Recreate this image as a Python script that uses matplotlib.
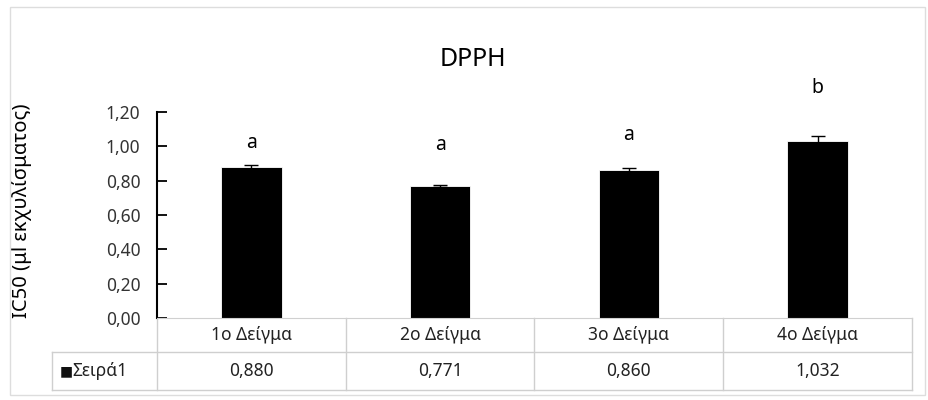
import matplotlib.pyplot as plt
import matplotlib.transforms as mtransforms
import numpy as np

plt.rcParams['font.family'] = ['Noto Sans', 'DejaVu Sans']

categories = ['1ο Δείγμα', '2ο Δείγμα', '3ο Δείγμα', '4ο Δείγμα']
values = [0.880, 0.771, 0.860, 1.032]
errors = [0.010, 0.005, 0.012, 0.030]
letters = ['a', 'a', 'a', 'b']
series_name = 'Σειρά1'
yticks = [0.0, 0.2, 0.4, 0.6, 0.8, 1.0, 1.2]


def comma(v, nd):
    return f'{v:.{nd}f}'.replace('.', ',')


fig = plt.figure(figsize=(9.29, 4.00), dpi=100)
ax = fig.add_axes([157 / 929, 1 - 318 / 400, 755 / 929, 206 / 400])

x = np.arange(len(categories))
ax.bar(x, values, width=0.32, color='black', edgecolor='white', linewidth=0.6, zorder=2)
ax.errorbar(x, values, yerr=errors, fmt='none', ecolor='black', elinewidth=1.0,
            capsize=5, capthick=1.0, zorder=3)

# significance letters (vertical centre of each letter, in y units)
letter_y = [1.02, 1.01, 1.066, 1.34]
for xi, ly, l in zip(x, letter_y, letters):
    ax.text(xi, ly, l, ha='center', va='center', fontsize=14, clip_on=False)

ax.set_xlim(-0.5, len(categories) - 0.5)
ax.set_ylim(0, 1.2)
ax.set_yticks(yticks)
ax.set_yticklabels([comma(t, 2) for t in yticks], fontsize=12.5, color='#333333')
ax.tick_params(axis='y', direction='in', length=7, width=1.3, pad=12)
ax.set_xticks([])
for s in ['top', 'right']:
    ax.spines[s].set_visible(False)
ax.spines['left'].set_linewidth(1.5)
ax.spines['bottom'].set_color('#d0d0d0')
ax.set_ylabel('IC50 (μl εκχυλίσματος)', fontsize=14.5)
ax.yaxis.set_label_coords(-0.165, 0.52)

fig.text(473 / 929, 1 - 60 / 400, 'DPPH', ha='center', va='center', fontsize=18)

# data table below the axes
trans = mtransforms.blended_transform_factory(ax.transData, ax.transAxes)
h = 206.0
row1_bot = -(352 - 318) / h
row2_bot = -(390 - 318) / h
left_edge = -0.5 - (160 - 55) / 188.75
grid_c = '#cfcfcf'
for b in np.arange(len(categories) + 1) - 0.5:
    ax.plot([b, b], [0, row2_bot], transform=trans, color=grid_c, lw=1, clip_on=False)
ax.plot([left_edge, len(categories) - 0.5], [row1_bot, row1_bot], transform=trans,
        color=grid_c, lw=1, clip_on=False)
ax.plot([left_edge, len(categories) - 0.5], [row2_bot, row2_bot], transform=trans,
        color=grid_c, lw=1, clip_on=False)
ax.plot([left_edge, left_edge], [row1_bot, row2_bot], transform=trans,
        color=grid_c, lw=1, clip_on=False)
for xi, c, v in zip(x, categories, values):
    ax.text(xi, row1_bot / 2, c, transform=trans, ha='center', va='center',
            fontsize=12.5, color='#222222')
    ax.text(xi, (row1_bot + row2_bot) / 2, comma(v, 3), transform=trans,
            ha='center', va='center', fontsize=12.5, color='#222222')
ax.text(left_edge + 0.04, (row1_bot + row2_bot) / 2, '■', transform=trans,
        ha='left', va='center', fontsize=10, color='#111111', family=['DejaVu Sans'])
ax.text(left_edge + 0.11, (row1_bot + row2_bot) / 2, series_name, transform=trans,
        ha='left', va='center', fontsize=12.5, color='#222222')

# light outer frame as in the spreadsheet chart area
fig.patches.append(plt.Rectangle((10 / 929, 5 / 400), 915 / 929, 388 / 400,
                                 transform=fig.transFigure, fill=False,
                                 edgecolor='#dddddd', lw=1))

fig.savefig('out.png', dpi=100)
